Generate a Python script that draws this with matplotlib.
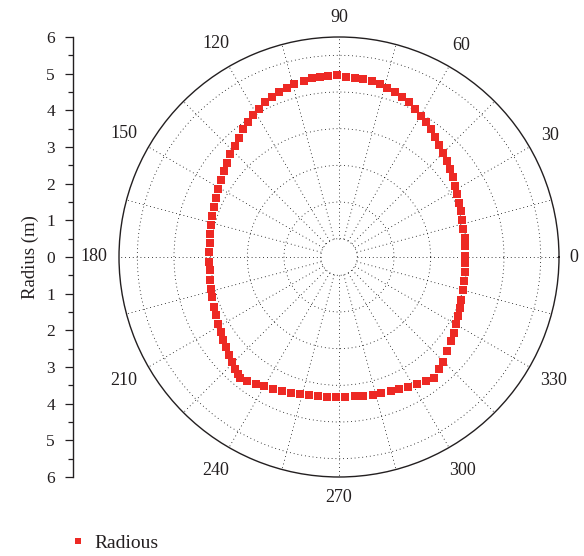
import numpy as np
import matplotlib
matplotlib.use("Agg")
import matplotlib.pyplot as plt
from matplotlib.ticker import MultipleLocator, FuncFormatter
from matplotlib.lines import Line2D

plt.rcParams['font.family'] = ['Liberation Serif', 'DejaVu Serif']

# measured section outline: angle (deg) and radius (m)
theta_deg = [0.5, 4.8, 8.4, 12.6, 16.6, 20.5, 24.1, 27.9, 31.3, 34.9,
             38.2, 41.5, 44.8, 48.1, 51.2, 54.1, 57.0, 59.8, 62.7, 65.6,
             68.4, 71.1, 74.0, 76.6, 79.3, 82.2, 85.0, 87.7, 90.5, 93.4,
             95.9, 98.7, 101.3, 104.5, 107.0, 109.9, 112.7, 115.5, 118.4, 121.2,
             124.0, 126.8, 130.0, 133.1, 136.6, 140.0, 143.2, 146.9, 150.7, 154.4,
             158.3, 162.2, 166.1, 170.0, 173.9, 177.9, 182.3, 185.9, 190.3, 194.2,
             197.6, 202.0, 205.4, 209.1, 212.6, 215.8, 218.7, 221.9, 224.6, 227.3,
             229.4, 230.9, 233.6, 237.0, 240.0, 243.6, 247.1, 250.7, 254.3, 257.9,
             261.5, 265.2, 268.9, 272.6, 276.7, 279.9, 283.9, 287.2, 291.3, 294.5,
             298.0, 301.6, 305.1, 308.2, 311.8, 314.7, 319.0, 323.1, 326.5, 330.2,
             333.6, 337.1, 340.5, 345.0, 349.0, 353.1, 357.1]
radius = [3.44, 3.46, 3.48, 3.47, 3.51, 3.56, 3.59, 3.65, 3.71, 3.80,
          3.86, 3.94, 4.01, 4.09, 4.19, 4.30, 4.38, 4.46, 4.53, 4.63,
          4.68, 4.75, 4.79, 4.84, 4.88, 4.91, 4.91, 4.92, 4.96, 4.94,
          4.93, 4.93, 4.90, 4.87, 4.81, 4.78, 4.72, 4.67, 4.58, 4.52,
          4.43, 4.35, 4.23, 4.14, 4.08, 3.98, 3.90, 3.83, 3.77, 3.71,
          3.66, 3.63, 3.59, 3.56, 3.53, 3.54, 3.54, 3.53, 3.57, 3.59,
          3.63, 3.67, 3.70, 3.77, 3.81, 3.89, 3.94, 4.02, 4.09, 4.17,
          4.22, 4.26, 4.21, 4.14, 4.07, 4.03, 3.98, 3.94, 3.89, 3.86,
          3.84, 3.84, 3.83, 3.83, 3.83, 3.86, 3.89, 3.89, 3.93, 3.97,
          4.02, 4.08, 4.14, 4.21, 4.11, 4.04, 3.92, 3.83, 3.77, 3.69,
          3.63, 3.59, 3.54, 3.51, 3.48, 3.47, 3.45]

angle_ticks = list(range(0, 360, 15))
angle_labels = list(range(0, 360, 30))
ring_radii = [0.5, 1.5, 2.5, 3.5, 4.5, 5.5]
r_max = 6

RED = '#ED2924'
INK = '#231F20'
GRID_LS = (0, (1, 3.6))

fig = plt.figure(figsize=(5.84, 5.56), dpi=100)

W, H = 584, 556
cx, cy, R = 339, 257, 220
ax = fig.add_axes([(cx - R) / W, (H - cy - R) / H, 2 * R / W, 2 * R / H], projection='polar')

ax.set_ylim(0, r_max)
ax.set_rgrids(ring_radii, labels=[''] * len(ring_radii))
ax.set_xticks(np.deg2rad(angle_ticks))
ax.set_xticklabels([])
ax.tick_params(axis='x', direction='in', length=5, width=0.8, colors=INK)
ax.tick_params(axis='y', length=0)
ax.yaxis.grid(True, color='black', linestyle=GRID_LS, linewidth=0.6)
ax.xaxis.grid(False)
ax.spines['polar'].set_color(INK)
ax.spines['polar'].set_linewidth(1.0)

# spokes start at the innermost ring
ax.vlines(np.deg2rad(angle_ticks), ring_radii[0], r_max, colors='black',
          linestyles=GRID_LS, linewidth=0.6, zorder=1)

ax.plot(np.deg2rad(theta_deg), radius, linestyle='none', marker='s',
        markersize=5.4, color=RED, markeredgewidth=0, zorder=3)

# angle labels kept a fixed gap from the rim, measured to the text box
px_per_unit = R / r_max
for a in angle_labels:
    t = np.deg2rad(a)
    s = str(a)
    half_w, half_h = 5.0 * len(s), 10.0
    reach = half_w * abs(np.cos(t)) + half_h * abs(np.sin(t))
    r_lab = (R + 10 + reach) / px_per_unit
    ax.text(t, r_lab, s, ha='center', va='center', fontsize=13, color=INK, clip_on=False)

# straight radius scale on the left
sc = fig.add_axes([73 / W, (H - cy - R) / H, 0.0001, 2 * R / H])
sc.set_ylim(-r_max, r_max)
sc.set_xticks([])
for side in ['right', 'top', 'bottom']:
    sc.spines[side].set_visible(False)
sc.spines['left'].set_color(INK)
sc.spines['left'].set_linewidth(1.0)
sc.yaxis.set_major_locator(MultipleLocator(1))
sc.yaxis.set_minor_locator(MultipleLocator(0.5))
sc.yaxis.set_major_formatter(FuncFormatter(lambda v, p: f"{abs(v):.0f}"))
sc.tick_params(axis='y', which='major', length=6, width=0.9, colors=INK, labelsize=12.5, pad=7)
sc.tick_params(axis='y', which='minor', length=3.5, width=0.9, colors=INK)
sc.set_ylabel('Radius (m)', fontsize=13.5, color=INK, labelpad=5)

handle = Line2D([], [], linestyle='none', marker='s', markersize=5, color=RED, markeredgewidth=0)
fig.legend([handle], ['Radious'], loc='center left', bbox_to_anchor=(68 / W, 1 - 543 / H),
           frameon=False, fontsize=14, handlelength=1, handletextpad=0.35,
           borderpad=0, borderaxespad=0, labelcolor=INK)

fig.savefig('out.png', dpi=100)
